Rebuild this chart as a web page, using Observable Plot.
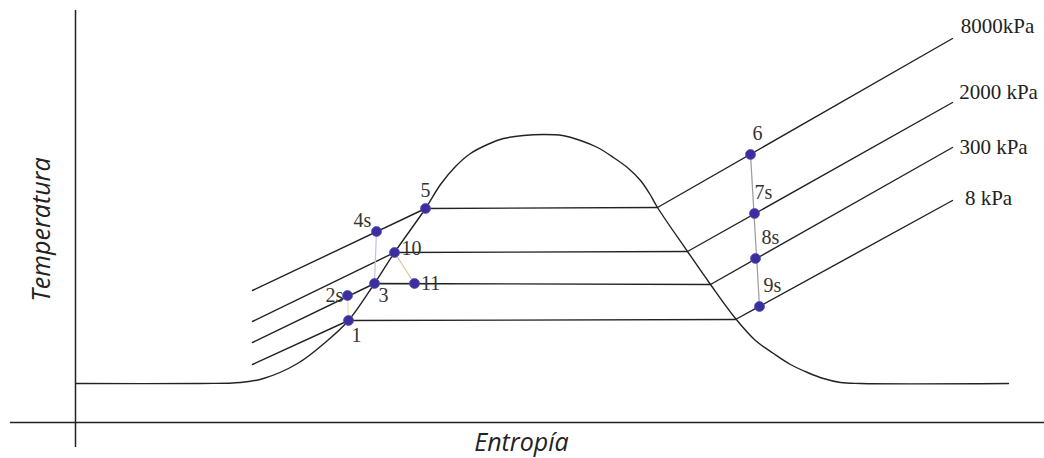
<!DOCTYPE html>
<html><head><meta charset="utf-8">
<script src="https://cdn.jsdelivr.net/npm/d3@7"></script>
<script src="https://cdn.jsdelivr.net/npm/@observablehq/plot@0.6"></script>
<style>body{margin:0;background:#fff}</style>
</head><body><div id="chart"></div>
<script>
// Saturation dome (entropy s, temperature T), arbitrary units
const domeS = [76, 200, 240, 263, 297, 327, 348, 374, 394, 425, 440, 455, 470, 487, 503, 523, 543, 562, 580, 597, 613, 628, 640, 649, 657, 687, 710, 735, 755, 773, 790, 807, 823, 840, 860, 1008];
const domeT = [75, 75, 76, 80, 95, 118, 138, 175, 206, 250, 274, 292, 305, 314, 320, 323, 324, 323, 318, 311, 301, 290, 278, 265, 251, 207, 174, 140, 118, 105, 94, 86, 80, 76, 75, 75];

// Isobars: compressed liquid start, saturated liquid, saturated vapour, superheated end
const isobarNames = ["8000kPa", "2000 kPa", "300 kPa", "8 kPa"];
const isobarS = [[252, 425, 657, 952], [252, 394, 687, 952], [252, 374, 710, 952], [252, 348, 735, 952]];
const isobarT = [[168, 250, 251, 420], [137, 206, 207, 356], [116, 175, 174, 311], [94, 138, 139, 258]];
const isobarLabelS = [997, 998, 993, 988];
const isobarLabelT = [432, 366, 311, 260];

// Cycle states
const stateNames = ["1", "2s", "3", "4s", "5", "6", "7s", "8s", "9s", "10", "11"];
const stateS = [348, 347, 374, 376, 425, 750, 754, 755, 759, 394, 414];
const stateT = [138, 163, 175, 227, 250, 304, 245, 200, 152, 206, 175];
const labelS = [356, 334, 383, 362, 425, 757, 763, 770, 772, 411, 430];
const labelT = [123, 163, 163, 238, 268, 325, 266, 221, 173, 210, 175];

// Thin process connectors (state name pairs) and their colours
const connFrom = ["4s", "2s", "10", "6"];
const connTo = ["3", "1", "11", "9s"];
const connColor = ["#c9bde0", "#e6dfa6", "#dcc3a6", "#9a9a9a"];

// Axis frame
const axisS = 75, axisTop = 448, axisBottom = 11;
const baseT = 36, baseLeft = 10, baseRight = 1044;
const xLabel = "Entropía", yLabel = "Temperatura";

const dome = domeS.map((s, i) => ({s, T: domeT[i]}));
const isobars = isobarNames.flatMap((name, k) => isobarS[k].map((s, i) => ({name, s, T: isobarT[k][i]})));
const isoLabels = isobarNames.map((name, k) => ({name, s: isobarLabelS[k], T: isobarLabelT[k]}));
const states = stateNames.map((name, i) => ({name, s: stateS[i], T: stateT[i], ls: labelS[i], lT: labelT[i]}));
const byName = Object.fromEntries(states.map(d => [d.name, d]));
const conns = connFrom.map((a, i) => ({a: byName[a], b: byName[connTo[i]], c: connColor[i]}));

const chart = Plot.plot({
  width: 1044, height: 458, margin: 0,
  x: {domain: [0, 1044], axis: null},
  y: {domain: [0, 458], axis: null},
  marks: [
    Plot.ruleX([axisS], {x: d => d, y1: axisBottom, y2: axisTop, stroke: "#222", strokeWidth: 1.5}),
    Plot.ruleY([baseT], {y: d => d, x1: baseLeft, x2: baseRight, stroke: "#222", strokeWidth: 1.5}),
    Plot.line(dome, {x: "s", y: "T", curve: "catmull-rom", stroke: "#222", strokeWidth: 1.4}),
    Plot.line(isobars, {x: "s", y: "T", z: "name", stroke: "#222", strokeWidth: 1.4}),
    Plot.link(conns, {x1: d => d.a.s, y1: d => d.a.T, x2: d => d.b.s, y2: d => d.b.T, stroke: d => d.c, strokeWidth: 1.2}),
    Plot.dot(states, {x: "s", y: "T", r: 5, fill: "#3b2f9e", stroke: "#5a50c0", strokeWidth: 0.8}),
    Plot.text(states, {x: "ls", y: "lT", text: "name", fontFamily: "Liberation Serif", fontSize: 20, fill: "#333"}),
    Plot.text(isoLabels, {x: "s", y: "T", text: "name", fontFamily: "Liberation Serif", fontSize: 21, fill: "#222"}),
    Plot.text([xLabel], {x: 521, y: 16, text: d => d, fontFamily: "Open Sans", fontStyle: "italic", fontSize: 25, fill: "#222"}),
    Plot.text([yLabel], {x: 41, y: 229, text: d => d, rotate: -90, fontFamily: "Open Sans", fontStyle: "italic", fontSize: 25, fill: "#222"})
  ]
});
document.getElementById("chart").append(chart);
</script>
</body></html>
